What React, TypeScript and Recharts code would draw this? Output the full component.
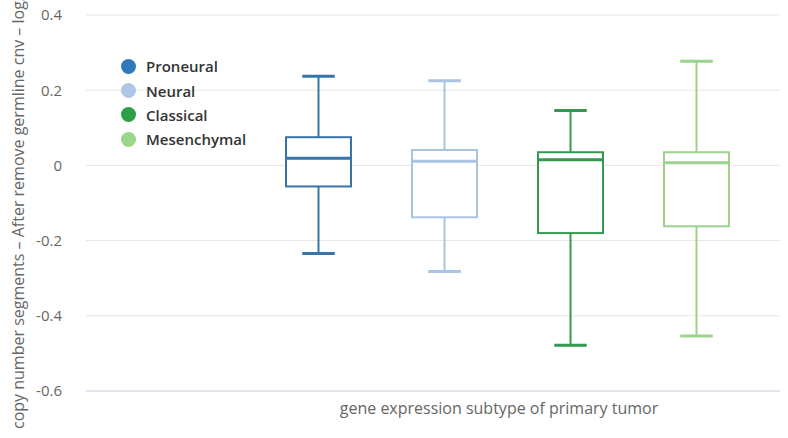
import { ComposedChart, CartesianGrid, XAxis, YAxis, Bar, Legend } from "recharts";

const subtypes = ["Proneural", "Neural", "Classical", "Mesenchymal"];
const whiskerLow = [-0.234, -0.282, -0.478, -0.454];
const quartile1 = [-0.056, -0.138, -0.18, -0.162];
const medians = [0.019, 0.011, 0.015, 0.007];
const quartile3 = [0.075, 0.041, 0.035, 0.035];
const whiskerHigh = [0.237, 0.225, 0.146, 0.277];
const yTicks = [-0.6, -0.4, -0.2, 0, 0.2, 0.4];

const dotColors = ["#2e79bd", "#aec7e8", "#2ca044", "#9cd68a"];
const lineColors = ["#3874a8", "#a9c3e3", "#33994f", "#9bd38c"];

const rows = subtypes.map((name, i) => ({
  name,
  low: whiskerLow[i],
  q1: quartile1[i],
  median: medians[i],
  q3: quartile3[i],
  high: whiskerHigh[i],
  range: [whiskerLow[i], whiskerHigh[i]],
}));

const FONT = '"Open Sans", "DejaVu Sans", sans-serif';

// the bar spans low..high, the rest is placed inside it proportionally
function BoxShape(props: any) {
  const { x, y, width, height, payload, index } = props;
  const top = Math.min(y, y + height);
  const h = Math.abs(height);
  const span = payload.high - payload.low;
  const py = (v: number) => top + ((payload.high - v) / span) * h;
  const color = lineColors[index];
  const cx = x + width / 2;
  const cap = width / 4;
  return (
    <g>
      <line x1={cx} x2={cx} y1={py(payload.high)} y2={py(payload.q3)} stroke={color} strokeWidth={2} />
      <line x1={cx} x2={cx} y1={py(payload.q1)} y2={py(payload.low)} stroke={color} strokeWidth={2} />
      <line x1={cx - cap} x2={cx + cap} y1={py(payload.high)} y2={py(payload.high)} stroke={color} strokeWidth={3} />
      <line x1={cx - cap} x2={cx + cap} y1={py(payload.low)} y2={py(payload.low)} stroke={color} strokeWidth={3} />
      <rect
        x={x}
        y={py(payload.q3)}
        width={width}
        height={py(payload.q1) - py(payload.q3)}
        fill="#ffffff"
        stroke={color}
        strokeWidth={2}
      />
      <line x1={x} x2={x + width} y1={py(payload.median)} y2={py(payload.median)} stroke={color} strokeWidth={3} />
    </g>
  );
}

function LegendBox() {
  return (
    <div style={{ fontFamily: FONT }}>
      {subtypes.map((s, i) => (
        <div key={s} style={{ display: "flex", alignItems: "center", height: 24.4 }}>
          <span
            style={{
              display: "inline-block",
              width: 15,
              height: 15,
              borderRadius: "50%",
              background: dotColors[i],
              marginRight: 10,
            }}
          />
          <span style={{ fontSize: 15, fontWeight: 600, color: "#333333" }}>{s}</span>
        </div>
      ))}
    </div>
  );
}

function YLabel() {
  return (
    <text
      transform="rotate(-90)"
      x={-429}
      y={24}
      textAnchor="start"
      fill="#666666"
      fontSize={16}
      fontFamily={FONT}
    >
      copy number segments – After remove germline cnv – log2(tumor/normal)
    </text>
  );
}

function XLabel() {
  return (
    <text x={499} y={414} textAnchor="middle" fill="#666666" fontSize={16} fontFamily={FONT}>
      gene expression subtype of primary tumor
    </text>
  );
}

export default function App() {
  return (
    <div style={{ position: "absolute", left: 0, top: 0, width: 788, height: 438, background: "#fff" }}>
      <ComposedChart
        width={788}
        height={438}
        data={rows}
        margin={{ top: 15, right: 8, bottom: 17, left: 0 }}
        style={{ fontFamily: FONT }}
      >
        <CartesianGrid vertical={false} stroke="#e6e6e6" strokeWidth={1} />
        <XAxis
          dataKey="name"
          height={30}
          padding={{ left: 169, right: 21 }}
          axisLine={{ stroke: "#ccd6eb" }}
          tickLine={false}
          tick={false}
          label={XLabel}
        />
        <YAxis
          width={86}
          domain={[-0.6, 0.4]}
          ticks={yTicks}
          axisLine={false}
          tickLine={false}
          tickSize={0}
          tickMargin={24}
          tick={{ fill: "#666666", fontSize: 15, fontFamily: FONT }}
          label={YLabel}
        />
        <Legend
          layout="vertical"
          align="center"
          verticalAlign="middle"
          content={LegendBox}
          wrapperStyle={{ top: 54, left: 121, width: "auto" }}
        />
        <Bar dataKey="range" barSize={65} shape={BoxShape} isAnimationActive={false} />
      </ComposedChart>
    </div>
  );
}
